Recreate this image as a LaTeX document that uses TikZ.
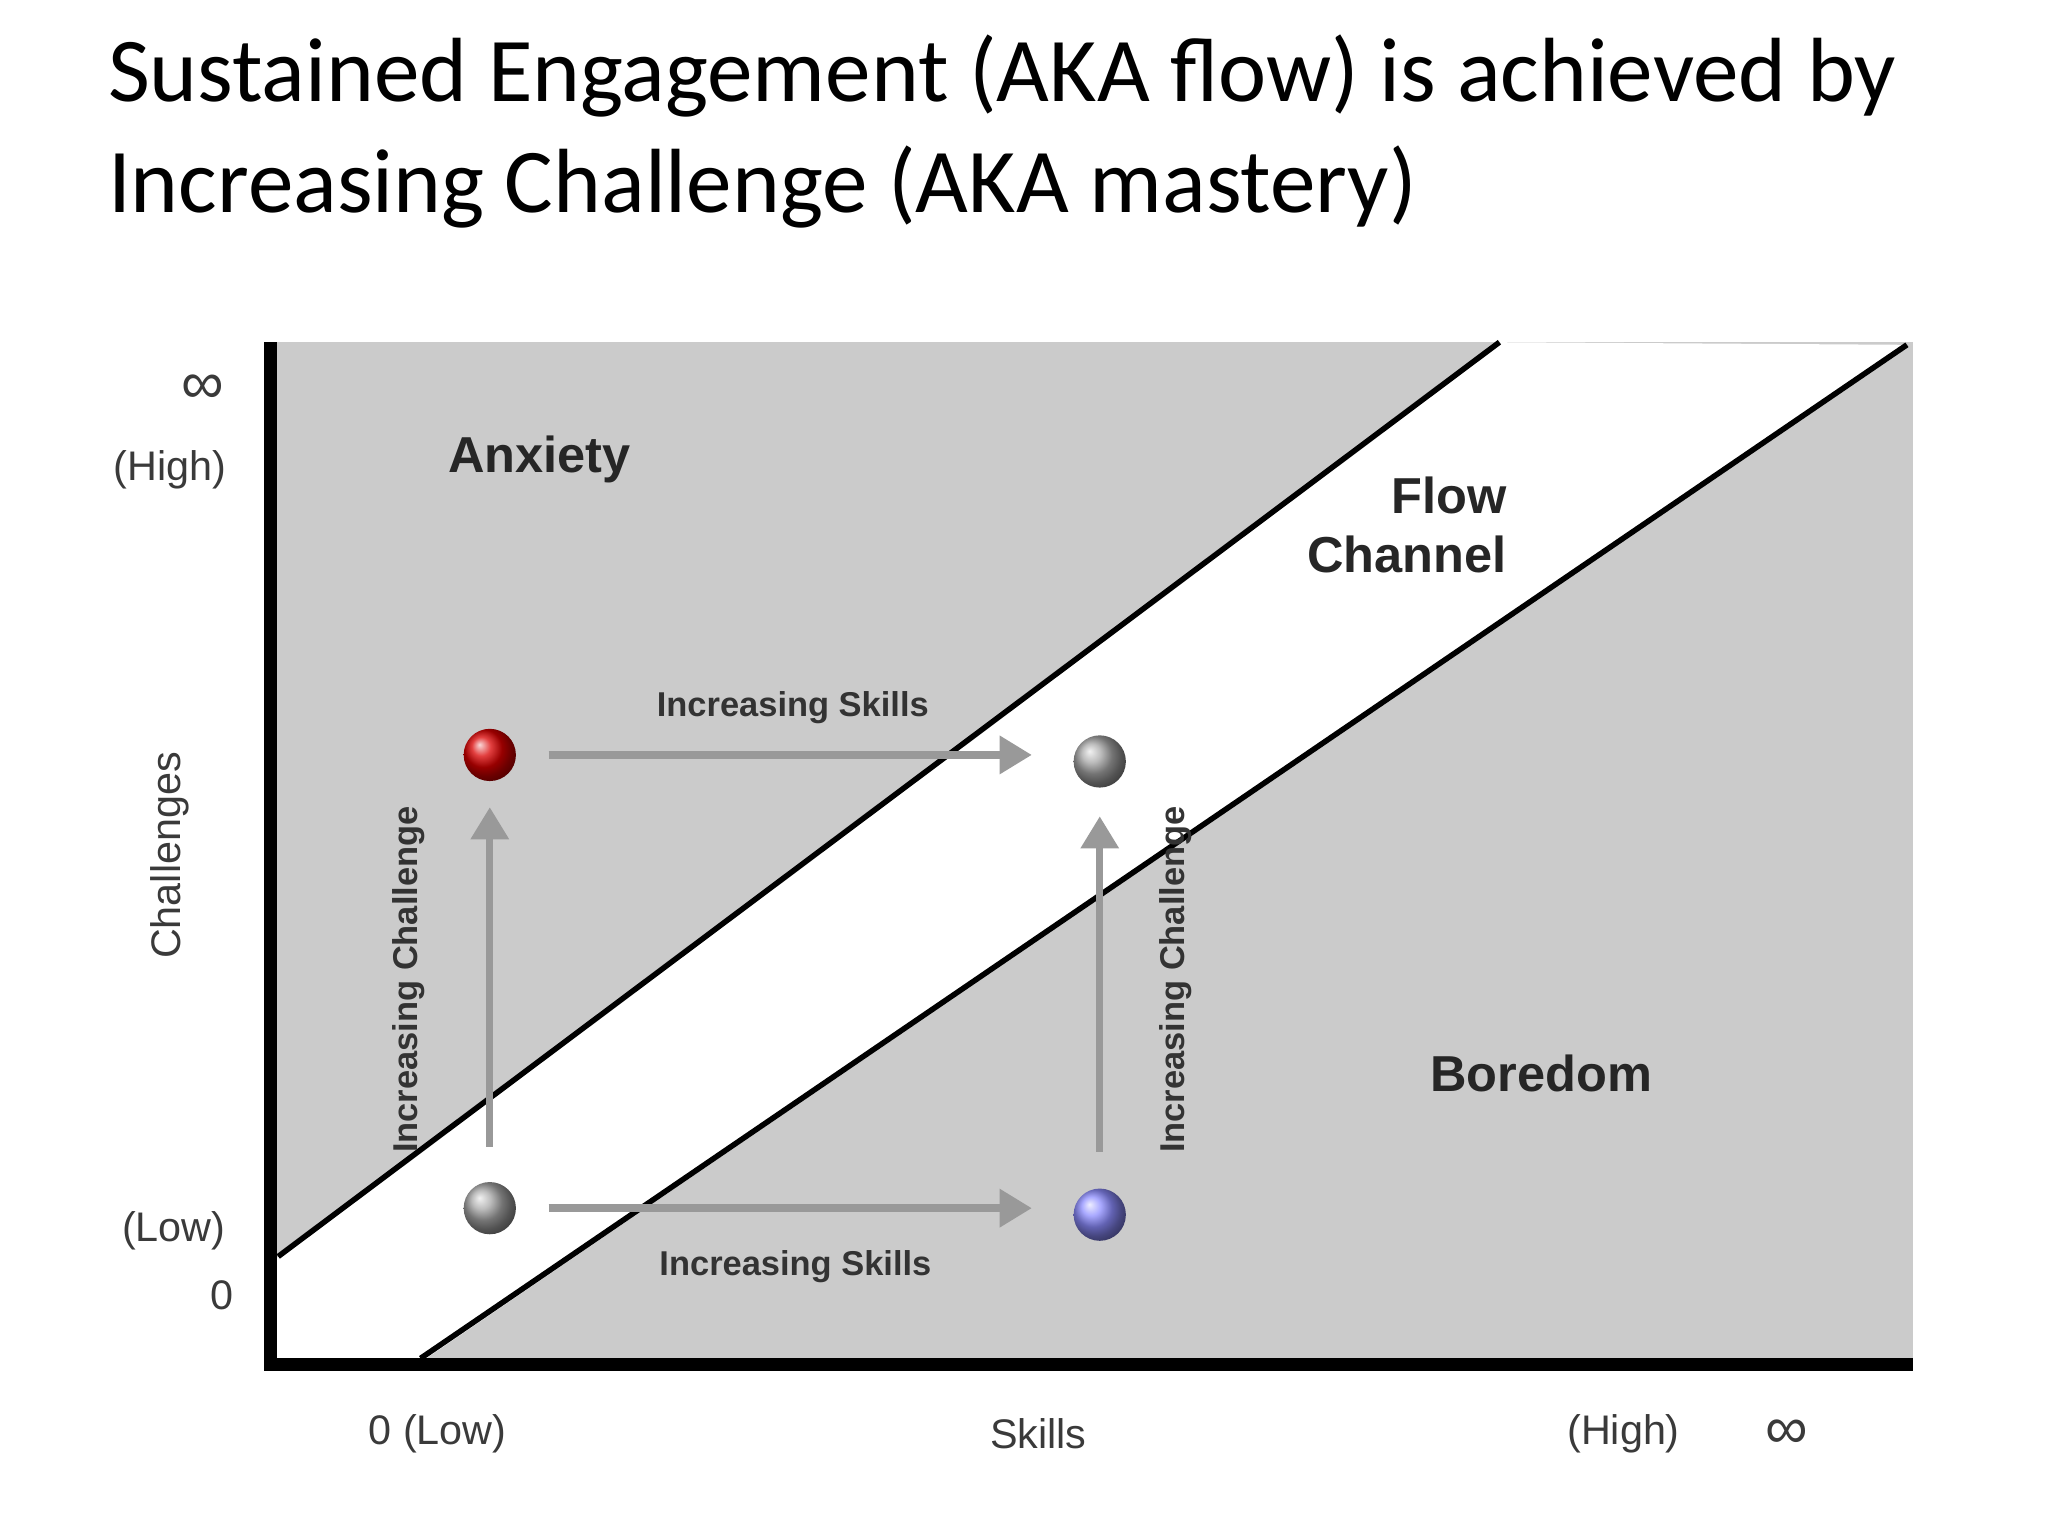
\documentclass[tikz,border=0pt]{standalone}
\usepackage{fontspec}
\setmainfont{Liberation Sans}
\newfontfamily\titlefont{Carlito}
\usetikzlibrary{arrows.meta}
\definecolor{bg}{HTML}{CBCBCB}
\definecolor{arr}{HTML}{999999}
\definecolor{lab}{HTML}{3A3A3A}
\tikzset{
  ax/.style={font=\fontsize{9}{10}\selectfont,text=lab},
  zone/.style={font=\bfseries\fontsize{11}{13}\selectfont,text=black!85},
  small/.style={font=\bfseries\fontsize{7.5}{9}\selectfont,text=black!80},
  garrow/.style={arr,line width=1.6pt,-{Triangle[length=7pt,width=8pt]}},
}
\begin{document}
\begin{tikzpicture}[x=0.01cm,y=-0.01cm]
\useasboundingbox (0,0) rectangle (1568,1176);
\node[anchor=base west,inner sep=0pt,font=\titlefont\fontsize{19.85}{24}\selectfont] (t1) at (82,78) {Sustained Engagement (AKA flow) is achieved by};
\node[anchor=base west,inner sep=0pt,font=\titlefont\fontsize{19.85}{24}\selectfont] (t2) at (82,163) {Increasing Challenge (AKA mastery)};
% background
\fill[bg] (208,262) rectangle (1465,1043);
\fill[white] (208,966) -- (1148,262) -- (1460,264) -- (322,1043) -- (208,1043) -- cycle;
\draw[line width=1.2pt] (213,962) -- (1148,262);
\draw[line width=1.2pt] (322,1040) -- (1460,264);
\draw[line width=2.8pt] (207,262) -- (207,1045) -- (1465,1045);
% dots
\shade[ball color=red!85!black] (375,578) circle (20);
\shade[ball color=gray!70] (842,583) circle (20);
\shade[ball color=gray!70] (375,925) circle (20);
\shade[ball color=blue!45] (842,930) circle (20);
\coordinate (a1) at (420,578); \coordinate (a2) at (790,578);
\coordinate (b1) at (420,925); \coordinate (b2) at (790,925);
\coordinate (c1) at (375,878); \coordinate (c2) at (375,618);
\coordinate (d1) at (842,882); \coordinate (d2) at (842,625);
\draw[garrow] (a1) -- (a2);
\draw[garrow] (b1) -- (b2);
\draw[garrow] (c1) -- (c2);
\draw[garrow] (d1) -- (d2);
\node[small] (s1) at (607,542) {Increasing Skills};
\node[small] (s2) at (609,970) {Increasing Skills};
\node[small,rotate=90] (v1) at (313,750) {Increasing Challenge};
\node[small,rotate=90] (v2) at (900,750) {Increasing Challenge};
\node[zone] (anx) at (413,352) {Anxiety};
\node[zone,align=right,anchor=east] (flow) at (1166,402) {Flow\\Channel};
\node[zone] (bor) at (1180,822) {Boredom};
% axes labels
\node[ax,font=\fontsize{13}{14}\selectfont] (inf1) at (155,298) {∞};
\node[ax] (hi1) at (130,360) {(High)};
\node[ax,rotate=90] (ch) at (130,655) {Challenges};
\node[ax] (lo1) at (133,942) {(Low)};
\node[ax] (z1) at (170,992) {0};
\node[ax] (lo2) at (335,1098) {0 (Low)};
\node[ax] (sk) at (795,1098) {Skills};
\node[ax] (hi2) at (1243,1098) {(High)};
\node[ax,font=\fontsize{13}{14}\selectfont] (inf2) at (1368,1098) {∞};
\end{tikzpicture}
\end{document}
